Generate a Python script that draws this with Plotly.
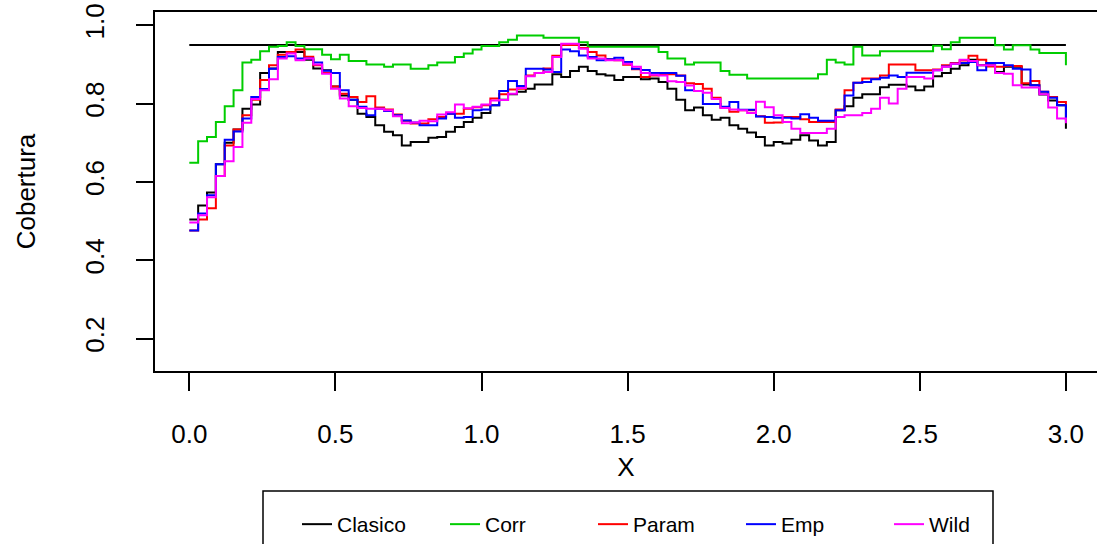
import numpy as np
import plotly.graph_objects as go

# ---------------- data ----------------
X_GRID = np.linspace(0, 3, 100)          # evaluation grid (x)
NOMINAL = 0.95                           # nominal coverage level

series_names = ["Clasico", "Corr", "Param", "Emp", "Wild"]
series_colors = ["#000000", "#00CD00", "#FF0000", "#0000FF", "#FF00FF"]

clasico = [0.504, 0.540, 0.573, 0.645, 0.700, 0.734, 0.787, 0.798, 0.878, 0.890,
           0.932, 0.932, 0.932, 0.912, 0.890, 0.885, 0.844, 0.821, 0.810, 0.774,
           0.766, 0.745, 0.728, 0.719, 0.693, 0.702, 0.702, 0.713, 0.715, 0.728,
           0.740, 0.753, 0.764, 0.776, 0.796, 0.810, 0.824, 0.830, 0.838, 0.849,
           0.849, 0.875, 0.868, 0.883, 0.894, 0.883, 0.875, 0.872, 0.860, 0.868,
           0.868, 0.862, 0.864, 0.855, 0.838, 0.810, 0.783, 0.790, 0.770, 0.759,
           0.764, 0.745, 0.736, 0.726, 0.715, 0.693, 0.702, 0.698, 0.708, 0.719,
           0.706, 0.693, 0.702, 0.783, 0.793, 0.815, 0.824, 0.824, 0.842, 0.848,
           0.848, 0.844, 0.834, 0.844, 0.870, 0.878, 0.889, 0.898, 0.912, 0.898,
           0.898, 0.881, 0.894, 0.894, 0.849, 0.847, 0.823, 0.808, 0.796, 0.736]

corr = [0.649, 0.704, 0.715, 0.753, 0.793, 0.834, 0.905, 0.912, 0.934, 0.945,
        0.947, 0.957, 0.947, 0.939, 0.939, 0.925, 0.913, 0.925, 0.909, 0.909,
        0.900, 0.900, 0.894, 0.900, 0.900, 0.889, 0.889, 0.898, 0.905, 0.905,
        0.919, 0.928, 0.938, 0.947, 0.947, 0.957, 0.963, 0.974, 0.974, 0.974,
        0.968, 0.968, 0.968, 0.968, 0.957, 0.945, 0.945, 0.945, 0.945, 0.945,
        0.945, 0.945, 0.945, 0.932, 0.915, 0.915, 0.900, 0.905, 0.905, 0.905,
        0.883, 0.874, 0.874, 0.864, 0.864, 0.864, 0.864, 0.864, 0.864, 0.864,
        0.864, 0.875, 0.912, 0.905, 0.900, 0.945, 0.923, 0.923, 0.934, 0.934,
        0.934, 0.934, 0.934, 0.934, 0.948, 0.939, 0.957, 0.968, 0.968, 0.968,
        0.968, 0.949, 0.938, 0.949, 0.949, 0.938, 0.929, 0.929, 0.929, 0.898]

param = [0.476, 0.504, 0.533, 0.615, 0.693, 0.734, 0.770, 0.810, 0.860, 0.898,
         0.925, 0.932, 0.938, 0.920, 0.898, 0.878, 0.844, 0.825, 0.817, 0.804,
         0.819, 0.790, 0.785, 0.772, 0.756, 0.749, 0.749, 0.760, 0.766, 0.774,
         0.774, 0.787, 0.791, 0.796, 0.813, 0.824, 0.836, 0.838, 0.872, 0.878,
         0.890, 0.922, 0.950, 0.950, 0.942, 0.932, 0.923, 0.913, 0.911, 0.899,
         0.888, 0.868, 0.872, 0.875, 0.875, 0.872, 0.852, 0.850, 0.838, 0.815,
         0.789, 0.779, 0.783, 0.783, 0.768, 0.751, 0.752, 0.766, 0.766, 0.760,
         0.753, 0.753, 0.753, 0.785, 0.834, 0.853, 0.864, 0.864, 0.872, 0.900,
         0.900, 0.900, 0.885, 0.885, 0.887, 0.898, 0.904, 0.910, 0.922, 0.912,
         0.895, 0.894, 0.896, 0.896, 0.852, 0.858, 0.830, 0.817, 0.804, 0.795]

emp = [0.476, 0.519, 0.566, 0.645, 0.708, 0.729, 0.762, 0.817, 0.837, 0.889,
       0.919, 0.921, 0.915, 0.915, 0.905, 0.884, 0.878, 0.834, 0.810, 0.792,
       0.770, 0.787, 0.781, 0.770, 0.757, 0.752, 0.745, 0.745, 0.762, 0.774,
       0.764, 0.766, 0.783, 0.785, 0.796, 0.832, 0.858, 0.845, 0.889, 0.889,
       0.887, 0.881, 0.938, 0.934, 0.923, 0.919, 0.911, 0.913, 0.917, 0.906,
       0.889, 0.886, 0.878, 0.878, 0.878, 0.871, 0.834, 0.832, 0.799, 0.799,
       0.792, 0.804, 0.784, 0.784, 0.767, 0.766, 0.764, 0.764, 0.762, 0.773,
       0.764, 0.756, 0.756, 0.783, 0.821, 0.853, 0.855, 0.862, 0.866, 0.872,
       0.868, 0.879, 0.879, 0.879, 0.885, 0.895, 0.902, 0.904, 0.906, 0.885,
       0.904, 0.904, 0.898, 0.889, 0.887, 0.847, 0.830, 0.815, 0.796, 0.757]

wild = [0.496, 0.515, 0.561, 0.615, 0.653, 0.689, 0.751, 0.812, 0.834, 0.862,
        0.915, 0.928, 0.911, 0.915, 0.900, 0.876, 0.838, 0.813, 0.793, 0.789,
        0.787, 0.787, 0.783, 0.768, 0.750, 0.752, 0.756, 0.755, 0.772, 0.778,
        0.798, 0.788, 0.792, 0.798, 0.808, 0.809, 0.825, 0.840, 0.870, 0.878,
        0.881, 0.919, 0.953, 0.953, 0.940, 0.915, 0.915, 0.911, 0.911, 0.902,
        0.894, 0.878, 0.874, 0.872, 0.857, 0.855, 0.846, 0.832, 0.828, 0.812,
        0.789, 0.785, 0.783, 0.776, 0.805, 0.791, 0.770, 0.753, 0.736, 0.725,
        0.725, 0.725, 0.736, 0.766, 0.770, 0.770, 0.776, 0.787, 0.815, 0.800,
        0.838, 0.868, 0.868, 0.864, 0.885, 0.894, 0.902, 0.912, 0.909, 0.898,
        0.898, 0.878, 0.876, 0.847, 0.841, 0.841, 0.824, 0.790, 0.762, 0.750]

x_ticks = [0.0, 0.5, 1.0, 1.5, 2.0, 2.5, 3.0]
y_ticks = [0.2, 0.4, 0.6, 0.8, 1.0]

# ---------------- figure ----------------
FONT = "Liberation Sans, Arial, sans-serif"
W, H = 1097, 544
ML, MR, MT, MB = 155, 0, 12, 173

fig = go.Figure()

# nominal level line (drawn first, behind the curves)
fig.add_trace(go.Scatter(
    x=[X_GRID[0], X_GRID[-1]], y=[NOMINAL, NOMINAL], mode="lines",
    line=dict(color="#000000", width=2), showlegend=False, hoverinfo="skip"))

for name, color, vals in zip(series_names, series_colors,
                             [clasico, corr, param, emp, wild]):
    fig.add_trace(go.Scatter(
        x=X_GRID, y=vals, mode="lines", name=name,
        line=dict(color=color, width=2, shape="hv")))

# helpers: figure pixel -> paper coordinates
plot_w = W - ML - MR
plot_h = H - MT - MB
def px_x(p):
    return (p - ML) / plot_w
def px_y(p):
    return (H - MB - p) / plot_h

# legend box (partly cut off at the bottom, as in the reference)
fig.add_shape(type="rect", xref="paper", yref="paper",
              x0=px_x(263), x1=px_x(993), y0=px_y(491), y1=px_y(570),
              line=dict(color="#000000", width=1.5), fillcolor="rgba(0,0,0,0)")

fig.update_layout(
    width=W, height=H,
    margin=dict(l=ML, r=MR, t=MT, b=MB, pad=0, autoexpand=False),
    paper_bgcolor="white", plot_bgcolor="white",
    font=dict(family=FONT, size=26, color="#000000"),
    showlegend=True,
    legend=dict(orientation="h", x=px_x(297), y=px_y(504),
                xanchor="left", yanchor="top",
                font=dict(size=21, family=FONT),
                entrywidth=103, entrywidthmode="pixels",
                bgcolor="rgba(0,0,0,0)", borderwidth=0,
                traceorder="normal"),
    xaxis=dict(range=[-0.1174, 3.1064], tickvals=x_ticks, tickformat=".1f",
               showgrid=False, zeroline=False, automargin=False,
               showline=True, mirror=True, linecolor="#000000", linewidth=1.5,
               ticks="outside", ticklen=18, tickwidth=1.5, tickcolor="#000000",
               ticklabelstandoff=21, ticklabeloverflow="allow",
               title=dict(text="X", standoff=10, font=dict(size=26))),
    yaxis=dict(range=[0.117, 1.034], tickvals=y_ticks, tickformat=".1f",
               showgrid=False, zeroline=False, automargin=False,
               showline=True, mirror=False, linecolor="#000000", linewidth=1.5,
               ticks="outside", ticklen=17, tickwidth=1.5, tickcolor="#000000",
               tickangle=-90, ticklabelstandoff=22, ticklabeloverflow="allow",
               title=dict(text="Cobertura", standoff=37, font=dict(size=26))),
)

# remove the default page margin so the figure fills the window exactly
fig.write_html("out.html",
               config={"displayModeBar": False},
               post_script="document.body.style.margin='0';"
                           "document.body.style.overflow='hidden';")
